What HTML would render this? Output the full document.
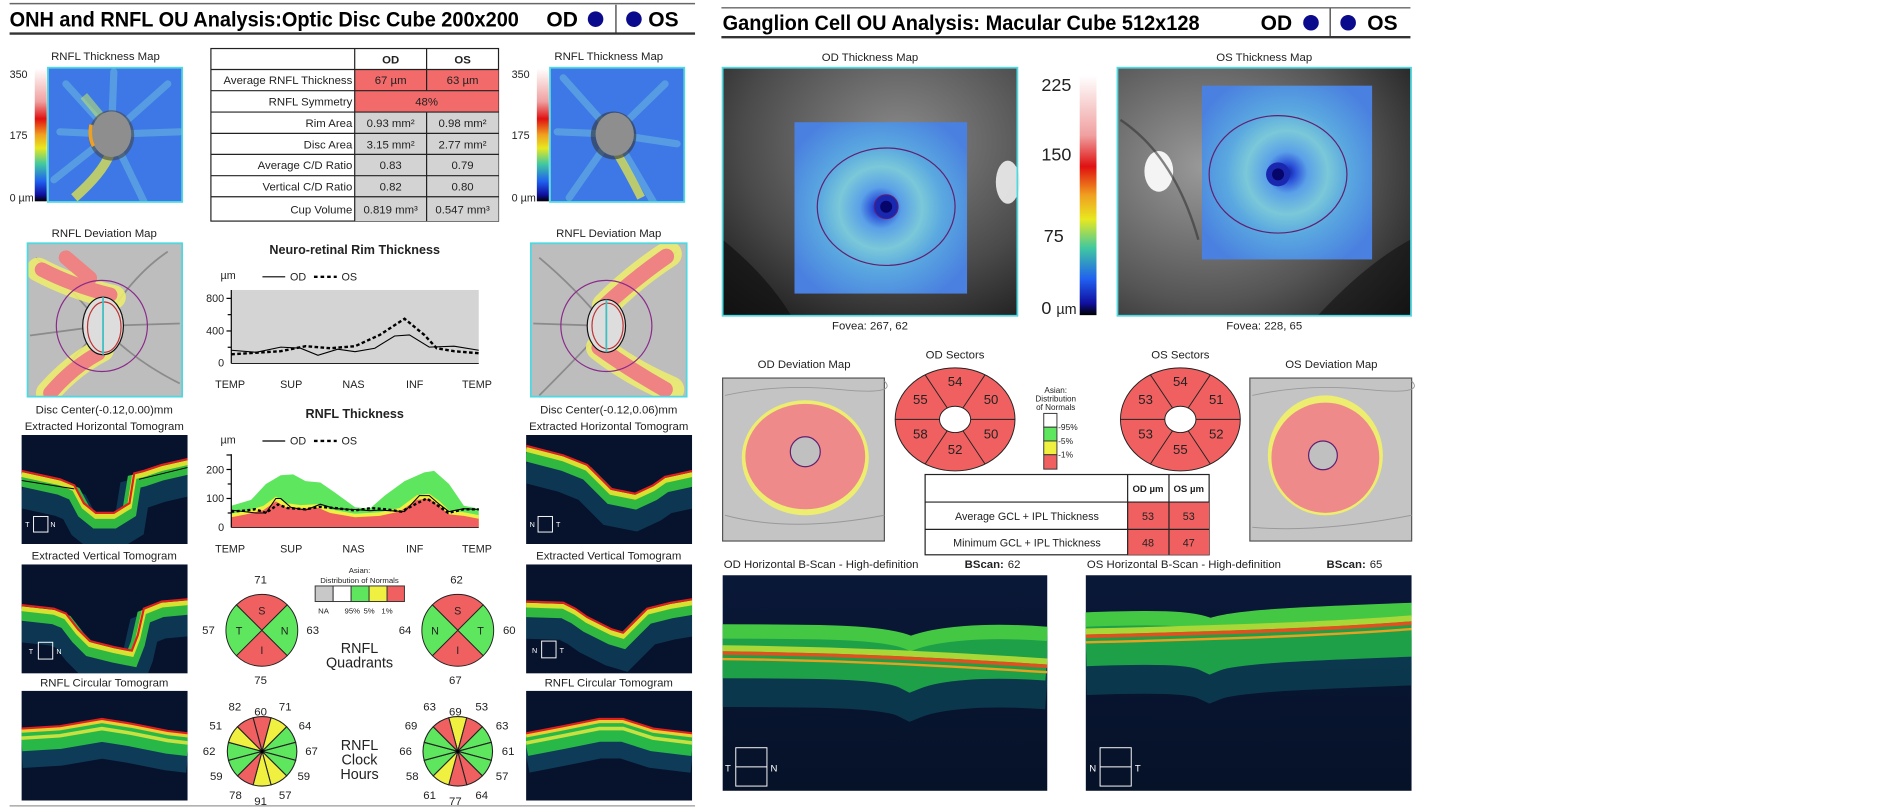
<!DOCTYPE html>
<html><head><meta charset="utf-8"><style>
html,body{margin:0;padding:0;background:#fff;}
svg{display:block;font-family:"Liberation Sans",Arial,sans-serif;}
</style></head><body>
<svg width="1879" height="808" viewBox="0 0 1568 674.3" preserveAspectRatio="none" xmlns="http://www.w3.org/2000/svg">
<defs>
<radialGradient id="fund" cx="0.6" cy="0.3" r="0.9"><stop offset="0" stop-color="#8a8a8a"/><stop offset="0.6" stop-color="#4a4a4a"/><stop offset="1" stop-color="#151515"/></radialGradient>
<radialGradient id="fund2" cx="0.3" cy="0.4" r="0.9"><stop offset="0" stop-color="#9a9a9a"/><stop offset="0.6" stop-color="#555"/><stop offset="1" stop-color="#1a1a1a"/></radialGradient>
<radialGradient id="gcl" cx="0.5" cy="0.5" r="0.6"><stop offset="0" stop-color="#0a1a9a"/><stop offset="0.08" stop-color="#2a4ed8"/><stop offset="0.2" stop-color="#5aa0e8"/><stop offset="0.4" stop-color="#7ac8d8"/><stop offset="0.6" stop-color="#5aa8e0"/><stop offset="1" stop-color="#4a80e0"/></radialGradient>
<linearGradient id="cbar" x1="0" y1="0" x2="0" y2="1"><stop offset="0" stop-color="#fff"/><stop offset="0.25" stop-color="#f0a0a0"/><stop offset="0.38" stop-color="#e01010"/><stop offset="0.5" stop-color="#f0a020"/><stop offset="0.6" stop-color="#e8e820"/><stop offset="0.72" stop-color="#40c8a0"/><stop offset="0.85" stop-color="#2060f0"/><stop offset="0.95" stop-color="#1010a0"/><stop offset="1" stop-color="#000"/></linearGradient>
<linearGradient id="bscan" x1="0" y1="0" x2="0" y2="1"><stop offset="0" stop-color="#0a1838"/><stop offset="1" stop-color="#061228"/></linearGradient>
<clipPath id="c1"><rect x="18" y="363" width="138.5" height="91"/></clipPath>
<clipPath id="c2"><rect x="18" y="471" width="138.5" height="91"/></clipPath>
<clipPath id="c3"><rect x="18" y="576.5" width="138.5" height="91.5"/></clipPath>
<clipPath id="c4"><rect x="439" y="363" width="138.5" height="91"/></clipPath>
<clipPath id="c5"><rect x="439" y="471" width="138.5" height="91"/></clipPath>
<clipPath id="c6"><rect x="439" y="576.5" width="138.5" height="91.5"/></clipPath>
<clipPath id="c7"><rect x="603" y="480" width="271" height="180"/></clipPath>
<clipPath id="c8"><rect x="906" y="480" width="272" height="180"/></clipPath>
<clipPath id="m1"><rect x="40" y="56.5" width="112" height="112"/></clipPath>
<clipPath id="m2"><rect x="459" y="56.5" width="112" height="112"/></clipPath>
<clipPath id="d1"><rect x="23" y="203" width="129" height="128"/></clipPath>
<clipPath id="d2"><rect x="443" y="203" width="130" height="128"/></clipPath>
</defs>

<!-- ===== LEFT HEADER ===== -->
<line x1="8" y1="3" x2="580" y2="3" stroke="#666" stroke-width="1.2"/>
<line x1="8" y1="28" x2="580" y2="28" stroke="#333" stroke-width="2"/>
<text x="8" y="22" font-size="17.5" font-weight="bold" textLength="425" lengthAdjust="spacingAndGlyphs">ONH and RNFL OU Analysis:Optic Disc Cube 200x200</text>
<text x="456" y="22" font-size="17.5" font-weight="bold">OD</text>
<circle cx="497" cy="16" r="6.5" fill="#0a0a8c"/>
<line x1="514" y1="4" x2="514" y2="28" stroke="#333" stroke-width="1"/>
<circle cx="529" cy="16" r="6.5" fill="#0a0a8c"/>
<text x="541" y="22" font-size="17.5" font-weight="bold">OS</text>

<!-- RNFL thickness maps -->
<g font-size="9.5" fill="#222" text-anchor="middle">
<text x="88" y="50">RNFL Thickness Map</text>
<text x="508" y="50">RNFL Thickness Map</text>
</g>
<rect x="29" y="57" width="10" height="111" fill="url(#cbar)"/>
<rect x="448" y="57" width="10" height="111" fill="url(#cbar)"/>
<g font-size="9" fill="#222">
<text x="8" y="65">350</text><text x="8" y="116">175</text><text x="8" y="168">0 µm</text>
<text x="427" y="65">350</text><text x="427" y="116">175</text><text x="427" y="168">0 µm</text>
</g>
<g clip-path="url(#m1)">
<rect x="40" y="56.5" width="112" height="112" fill="#3d78e6"/>
<g stroke="#78c8e0" stroke-width="6" opacity="0.45" stroke-linecap="round">
<line x1="93" y1="112" x2="55" y2="70"/><line x1="93" y1="112" x2="140" y2="70"/><line x1="93" y1="112" x2="150" y2="110"/><line x1="93" y1="112" x2="45" y2="150"/><line x1="93" y1="112" x2="120" y2="168"/><line x1="93" y1="112" x2="95" y2="60"/><line x1="93" y1="112" x2="50" y2="110"/></g>
<path d="M92,128 Q85,145 62,165" stroke="#d8e050" stroke-width="8" fill="none" opacity="0.8"/>
<path d="M70,80 L85,98" stroke="#b8e070" stroke-width="7" opacity="0.6"/>
<ellipse cx="93" cy="113" rx="19" ry="21" fill="#444" opacity="0.6"/>
<ellipse cx="93" cy="112" rx="16.5" ry="19" fill="#8e8e8e"/>
<path d="M76,104 Q74,115 78,122" stroke="#f0a020" stroke-width="3" fill="none"/>
</g>
<rect x="40" y="56.5" width="112" height="112" fill="none" stroke="#50d8e0" stroke-width="1.5"/>
<g clip-path="url(#m2)">
<rect x="459" y="56.5" width="112" height="112" fill="#3d78e6"/>
<g stroke="#78c8e0" stroke-width="6" opacity="0.45" stroke-linecap="round">
<line x1="512" y1="112" x2="470" y2="65"/><line x1="512" y1="112" x2="555" y2="70"/><line x1="512" y1="112" x2="565" y2="120"/><line x1="512" y1="112" x2="475" y2="165"/><line x1="512" y1="112" x2="545" y2="168"/><line x1="512" y1="112" x2="465" y2="110"/></g>
<path d="M515,128 Q525,145 535,165" stroke="#d8e050" stroke-width="7" fill="none" opacity="0.8"/>
<ellipse cx="512" cy="113" rx="19" ry="20" fill="#333" opacity="0.6"/>
<ellipse cx="513" cy="112" rx="16" ry="18" fill="#8e8e8e"/>
</g>
<rect x="459" y="56.5" width="112" height="112" fill="none" stroke="#50d8e0" stroke-width="1.5"/>

<!-- Table -->
<g>
<rect x="176" y="40.5" width="240" height="144" fill="#fff" stroke="#222" stroke-width="1"/>
<rect x="296" y="58" width="120" height="35.5" fill="#f26a6a"/>
<rect x="296" y="93.5" width="120" height="91" fill="#d3d3d3"/>
<g stroke="#222" stroke-width="1">
<line x1="296" y1="40.5" x2="296" y2="184.5"/>
<line x1="356" y1="40.5" x2="356" y2="75.7"/><line x1="356" y1="93.5" x2="356" y2="184.5"/>
<line x1="176" y1="58" x2="416" y2="58"/><line x1="176" y1="75.7" x2="416" y2="75.7"/><line x1="176" y1="93.5" x2="416" y2="93.5"/><line x1="176" y1="111.3" x2="416" y2="111.3"/><line x1="176" y1="128.8" x2="416" y2="128.8"/><line x1="176" y1="146.6" x2="416" y2="146.6"/><line x1="176" y1="164.2" x2="416" y2="164.2"/>
</g>
<g font-size="9.5" fill="#222" text-anchor="end">
<text x="294" y="70">Average RNFL Thickness</text><text x="294" y="88">RNFL Symmetry</text><text x="294" y="106">Rim Area</text><text x="294" y="124">Disc Area</text><text x="294" y="141">Average C/D Ratio</text><text x="294" y="159">Vertical C/D Ratio</text><text x="294" y="178">Cup Volume</text>
</g>
<g font-size="9.5" fill="#222" text-anchor="middle">
<text x="326" y="53" font-weight="bold">OD</text><text x="386" y="53" font-weight="bold">OS</text>
<text x="326" y="70">67 µm</text><text x="386" y="70">63 µm</text><text x="356" y="88">48%</text>
<text x="326" y="106">0.93 mm²</text><text x="386" y="106">0.98 mm²</text>
<text x="326" y="124">3.15 mm²</text><text x="386" y="124">2.77 mm²</text>
<text x="326" y="141">0.83</text><text x="386" y="141">0.79</text>
<text x="326" y="159">0.82</text><text x="386" y="159">0.80</text>
<text x="326" y="178">0.819 mm³</text><text x="386" y="178">0.547 mm³</text>
</g>
</g>

<!-- Deviation maps -->
<g font-size="9.5" fill="#222" text-anchor="middle">
<text x="87" y="198">RNFL Deviation Map</text><text x="508" y="198">RNFL Deviation Map</text>
<text x="87" y="345">Disc Center(-0.12,0.00)mm</text><text x="87" y="359">Extracted Horizontal Tomogram</text>
<text x="508" y="345">Disc Center(-0.12,0.06)mm</text><text x="508" y="359">Extracted Horizontal Tomogram</text>
<text x="87" y="467">Extracted Vertical Tomogram</text><text x="508" y="467">Extracted Vertical Tomogram</text>
<text x="87" y="573">RNFL Circular Tomogram</text><text x="508" y="573">RNFL Circular Tomogram</text>
</g>
<g clip-path="url(#d1)">
<rect x="23" y="203" width="129" height="128" fill="#bdbdbd"/>
<g stroke="#777" stroke-width="1.5" fill="none" opacity="0.7"><path d="M85,272 Q60,240 30,215"/><path d="M85,272 Q110,230 140,210"/><path d="M85,272 Q60,300 35,330"/><path d="M85,272 Q110,300 150,320"/><path d="M85,272 L150,270"/><path d="M85,272 L25,280"/></g>
<g stroke="#ecec70" stroke-width="20" fill="none" stroke-linecap="round" opacity="0.9"><path d="M32,225 Q60,240 95,248"/><path d="M85,292 Q60,305 40,328"/></g>
<g stroke="#ef8282" stroke-width="12" fill="none" stroke-linecap="round"><path d="M35,225 Q60,238 92,246"/><path d="M82,295 Q60,307 42,328"/><path d="M55,215 L75,232"/></g>
<circle cx="85" cy="272" r="38" fill="none" stroke="#8a2a8a" stroke-width="1"/>
<ellipse cx="86" cy="272" rx="17" ry="24" fill="#ddd" stroke="#111" stroke-width="1"/>
<ellipse cx="87" cy="273" rx="14" ry="21" fill="none" stroke="#c03030" stroke-width="1"/>
<line x1="86" y1="248" x2="86" y2="296" stroke="#40c0c0" stroke-width="1.5"/>
</g>
<rect x="23" y="203" width="129" height="128" fill="none" stroke="#50d8e0" stroke-width="1.5"/>
<g clip-path="url(#d2)">
<rect x="443" y="203" width="130" height="128" fill="#bdbdbd"/>
<g stroke="#777" stroke-width="1.5" fill="none" opacity="0.7"><path d="M506,272 Q480,240 450,215"/><path d="M506,272 Q530,230 565,210"/><path d="M506,272 Q480,300 450,330"/><path d="M506,272 L445,270"/></g>
<g stroke="#ecec70" stroke-width="22" fill="none" stroke-linecap="round" opacity="0.9"><path d="M505,255 Q530,230 558,212"/><path d="M500,290 Q525,310 560,325"/></g>
<g stroke="#ef8282" stroke-width="13" fill="none" stroke-linecap="round"><path d="M505,255 Q530,232 556,214"/><path d="M500,290 Q525,308 555,325"/></g>
<circle cx="506" cy="272" r="38" fill="none" stroke="#8a2a8a" stroke-width="1"/>
<ellipse cx="506" cy="272" rx="16" ry="22" fill="#ddd" stroke="#111" stroke-width="1"/>
<ellipse cx="507" cy="272" rx="13" ry="19" fill="none" stroke="#c03030" stroke-width="1"/>
<line x1="506" y1="250" x2="506" y2="294" stroke="#40c0c0" stroke-width="1.5"/>
</g>
<rect x="443" y="203" width="130" height="128" fill="none" stroke="#50d8e0" stroke-width="1.5"/>

<!-- Tomograms -->
<g>
<g clip-path="url(#c1)"><rect x="18" y="363" width="139" height="91" fill="#07122c"/>
<g fill="none"><path d="M18,393 L50,400 L62,405 L70,420 L80,428 L95,428 L108,420 L112,395 L120,393 L135,388 L157,383" stroke="#1a7a9a" stroke-width="26" transform="translate(0,18)" opacity="0.35"/><path d="M18,393 L50,400 L62,405 L70,420 L80,428 L95,428 L108,420 L112,395 L120,393 L135,388 L157,383" stroke="#30b840" stroke-width="12" transform="translate(0,7)"/><path d="M18,393 L50,400 L62,405 L70,420 L80,428 L95,428 L108,420 L112,395 L120,393 L135,388 L157,383" stroke="#d8e030" stroke-width="4" transform="translate(0,3)"/><path d="M18,393 L50,400 L62,405 L70,420 L80,428 L95,428 L108,420 L112,395 L120,393 L135,388 L157,383" stroke="#e02020" stroke-width="1.8"/><path d="M18,401 L62,408" stroke="#000" stroke-width="0.8"/><path d="M116,400 L157,390" stroke="#000" stroke-width="0.8"/></g>
<rect x="28" y="431" width="12" height="13" fill="none" stroke="#fff" stroke-width="0.8"/><text x="21" y="440" font-size="6" fill="#fff">T</text><text x="42" y="440" font-size="6" fill="#fff">N</text></g>
<g clip-path="url(#c2)"><rect x="18" y="471" width="139" height="91" fill="#07122c"/>
<g fill="none"><path d="M18,505 L45,508 L55,512 L65,525 L75,535 L95,540 L110,543 L115,530 L120,508 L135,502 L157,500" stroke="#1a7a9a" stroke-width="26" transform="translate(0,18)" opacity="0.35"/><path d="M18,505 L45,508 L55,512 L65,525 L75,535 L95,540 L110,543 L115,530 L120,508 L135,502 L157,500" stroke="#30b840" stroke-width="12" transform="translate(0,7)"/><path d="M18,505 L45,508 L55,512 L65,525 L75,535 L95,540 L110,543 L115,530 L120,508 L135,502 L157,500" stroke="#d8e030" stroke-width="4" transform="translate(0,3)"/><path d="M18,505 L45,508 L55,512 L65,525 L75,535 L95,540 L110,543 L115,530 L120,508 L135,502 L157,500" stroke="#e02020" stroke-width="1.8"/></g>
<rect x="32" y="536" width="12" height="14" fill="none" stroke="#fff" stroke-width="0.8"/><text x="24" y="546" font-size="6" fill="#fff">T</text><text x="47" y="546" font-size="6" fill="#fff">N</text></g>
<g clip-path="url(#c3)"><rect x="18" y="576.5" width="139" height="92" fill="#07122c"/>
<g fill="none"><path d="M18,608 L50,606 L85,600 L110,604 L140,610 L157,612" stroke="#1a7a9a" stroke-width="30" transform="translate(0,18)" opacity="0.4"/><path d="M18,608 L50,606 L85,600 L110,604 L140,610 L157,612" stroke="#28b848" stroke-width="18" transform="translate(0,10)"/><path d="M18,608 L50,606 L85,600 L110,604 L140,610 L157,612" stroke="#c8e040" stroke-width="3" transform="translate(0,8)"/><path d="M18,608 L50,606 L85,600 L110,604 L140,610 L157,612" stroke="#e8d030" stroke-width="3" transform="translate(0,2)"/><path d="M18,608 L50,606 L85,600 L110,604 L140,610 L157,612" stroke="#e02020" stroke-width="1.8"/></g></g>

<g clip-path="url(#c4)"><rect x="439" y="363" width="139" height="91" fill="#07122c"/>
<g fill="none"><path d="M439,372 L470,380 L490,388 L500,398 L510,408 L530,412 L545,405 L555,398 L578,393" stroke="#1a7a9a" stroke-width="26" transform="translate(0,18)" opacity="0.35"/><path d="M439,372 L470,380 L490,388 L500,398 L510,408 L530,412 L545,405 L555,398 L578,393" stroke="#30b840" stroke-width="12" transform="translate(0,7)"/><path d="M439,372 L470,380 L490,388 L500,398 L510,408 L530,412 L545,405 L555,398 L578,393" stroke="#d8e030" stroke-width="4" transform="translate(0,3)"/><path d="M439,372 L470,380 L490,388 L500,398 L510,408 L530,412 L545,405 L555,398 L578,393" stroke="#e02020" stroke-width="1.8"/></g>
<rect x="449" y="431" width="12" height="13" fill="none" stroke="#fff" stroke-width="0.8"/><text x="442" y="440" font-size="6" fill="#fff">N</text><text x="464" y="440" font-size="6" fill="#fff">T</text></g>
<g clip-path="url(#c5)"><rect x="439" y="471" width="139" height="91" fill="#07122c"/>
<g fill="none"><path d="M439,502 L470,503 L480,508 L490,515 L510,525 L520,528 L530,518 L540,508 L560,503 L578,500" stroke="#1a7a9a" stroke-width="26" transform="translate(0,18)" opacity="0.35"/><path d="M439,502 L470,503 L480,508 L490,515 L510,525 L520,528 L530,518 L540,508 L560,503 L578,500" stroke="#30b840" stroke-width="12" transform="translate(0,7)"/><path d="M439,502 L470,503 L480,508 L490,515 L510,525 L520,528 L530,518 L540,508 L560,503 L578,500" stroke="#d8e030" stroke-width="4" transform="translate(0,3)"/><path d="M439,502 L470,503 L480,508 L490,515 L510,525 L520,528 L530,518 L540,508 L560,503 L578,500" stroke="#e02020" stroke-width="1.8"/></g>
<rect x="452" y="535" width="12" height="14" fill="none" stroke="#fff" stroke-width="0.8"/><text x="444" y="545" font-size="6" fill="#fff">N</text><text x="467" y="545" font-size="6" fill="#fff">T</text></g>
<g clip-path="url(#c6)"><rect x="439" y="576.5" width="139" height="92" fill="#07122c"/>
<g fill="none"><path d="M439,612 L470,606 L500,600 L520,600 L545,608 L578,612" stroke="#1a7a9a" stroke-width="30" transform="translate(0,18)" opacity="0.4"/><path d="M439,612 L470,606 L500,600 L520,600 L545,608 L578,612" stroke="#28b848" stroke-width="18" transform="translate(0,10)"/><path d="M439,612 L470,606 L500,600 L520,600 L545,608 L578,612" stroke="#c8e040" stroke-width="3" transform="translate(0,8)"/><path d="M439,612 L470,606 L500,600 L520,600 L545,608 L578,612" stroke="#e8d030" stroke-width="3" transform="translate(0,2)"/><path d="M439,612 L470,606 L500,600 L520,600 L545,608 L578,612" stroke="#e02020" stroke-width="1.8"/></g></g>
</g>

<!-- Neuro-retinal rim chart -->
<text x="296" y="212" font-size="10.5" font-weight="bold" text-anchor="middle" fill="#222">Neuro-retinal Rim Thickness</text>
<g font-size="9" fill="#222">
<text x="184" y="233">µm</text>
<line x1="219" y1="231" x2="238" y2="231" stroke="#000" stroke-width="1"/><text x="242" y="234">OD</text>
<line x1="262" y1="231" x2="281" y2="231" stroke="#000" stroke-width="2" stroke-dasharray="3,2.5"/><text x="285" y="234">OS</text>
</g>
<rect x="193" y="242" width="206.5" height="61.3" fill="#d4d4d4"/>
<line x1="193" y1="242" x2="193" y2="303.3" stroke="#000" stroke-width="1"/>
<line x1="193" y1="303.3" x2="399.5" y2="303.3" stroke="#000" stroke-width="0.8"/>
<g stroke="#000" stroke-width="1"><line x1="189" y1="249" x2="193" y2="249"/><line x1="190" y1="262.6" x2="193" y2="262.6"/><line x1="189" y1="276.2" x2="193" y2="276.2"/><line x1="190" y1="289.8" x2="193" y2="289.8"/></g>
<g font-size="9" fill="#222" text-anchor="end"><text x="187" y="252">800</text><text x="187" y="279">400</text><text x="187" y="306">0</text></g>
<polyline points="193,292.3 213.7,294 234.3,289.7 250.8,290.6 265.3,296.5 281.8,291.4 296.3,293.5 312.8,290.6 329.3,280.4 341.7,279.5 358.2,289.7 378.9,288.9 399.5,292.3" fill="none" stroke="#000" stroke-width="0.9"/>
<polyline points="193,295.7 234.3,293.1 255,288.9 275.6,290.6 296.3,288.9 316.9,279.5 337.6,266 354.1,279.5 364.4,290.6 378.9,293.1 399.5,294.8" fill="none" stroke="#000" stroke-width="2" stroke-dasharray="3,2"/>
<g font-size="9" fill="#222" text-anchor="middle"><text x="192" y="324">TEMP</text><text x="243" y="324">SUP</text><text x="295" y="324">NAS</text><text x="346" y="324">INF</text><text x="398" y="324">TEMP</text></g>

<!-- RNFL thickness chart -->
<text x="296" y="349" font-size="10.5" font-weight="bold" text-anchor="middle" fill="#222">RNFL Thickness</text>
<g font-size="9" fill="#222">
<text x="184" y="370">µm</text>
<line x1="219" y1="368" x2="238" y2="368" stroke="#000" stroke-width="1"/><text x="242" y="371">OD</text>
<line x1="262" y1="368" x2="281" y2="368" stroke="#000" stroke-width="2" stroke-dasharray="3,2.5"/><text x="285" y="371">OS</text>
</g>
<polygon points="193,422.1 209.5,417.2 221.9,403.9 234.3,396.6 244.6,395.9 255,401.5 267.3,402.7 279.7,411.2 296.3,423.3 308.6,424.5 321,413.6 337.6,401.5 354.1,394.2 362.3,393 374.7,403.9 387.1,422.1 399.5,424.5 399.5,440.2 193,440.2" fill="#5ee65e"/>
<polygon points="193,428.7 205.4,426.3 219.8,422.2 230.2,414.4 238.4,419.8 250.8,421.5 265.3,420.7 275.6,425.1 296.3,428.7 316.9,427.5 333.4,423.9 347.9,413.2 358.2,412 366.5,418.1 374.7,425.8 387.1,427.5 399.5,429.9 399.5,440.2 193,440.2" fill="#f0f040"/>
<polygon points="193,431.7 205.4,429.3 219.8,425.7 230.2,418.4 238.4,423.3 250.8,424.5 265.3,423.7 275.6,428.1 296.3,431.7 316.9,430.5 333.4,426.9 347.9,417.2 358.2,416 366.5,422.1 374.7,429.3 387.1,430.5 399.5,432.9 399.5,440.2 193,440.2" fill="#f06060"/>
<line x1="193" y1="379" x2="193" y2="440.2" stroke="#000" stroke-width="1"/>
<line x1="193" y1="440.2" x2="399.5" y2="440.2" stroke="#000" stroke-width="0.6"/>
<g stroke="#000" stroke-width="1"><line x1="189" y1="379.7" x2="193" y2="379.7"/><line x1="189" y1="391.8" x2="193" y2="391.8"/><line x1="190" y1="403.9" x2="193" y2="403.9"/><line x1="189" y1="416" x2="193" y2="416"/><line x1="190" y1="428.1" x2="193" y2="428.1"/></g>
<g font-size="9" fill="#222" text-anchor="end"><text x="187" y="395">200</text><text x="187" y="419">100</text><text x="187" y="443">0</text></g>
<polyline points="193,425.7 213.7,428.1 221.9,428.1 230.2,416 234.3,416 242.6,423.3 255,425.7 267.3,420.8 279.7,424.5 296.3,425.2 308.6,426.2 316.9,425.7 337.6,426.9 350,413.6 358.2,413.6 366.5,420.8 374.7,426.9 387.1,424.5 399.5,425.2" fill="none" stroke="#000" stroke-width="0.9"/>
<polyline points="193,427 205,426 213,425 222,428 232,421 240,424 255,425 267,423 280,424 296,426 310,424 322,425 335,427 348,420 356,416 364,421 374,428 387,425 399.5,425" fill="none" stroke="#000" stroke-width="2" stroke-dasharray="2.5,2"/>
<g font-size="9" fill="#222" text-anchor="middle"><text x="192" y="461">TEMP</text><text x="243" y="461">SUP</text><text x="295" y="461">NAS</text><text x="346" y="461">INF</text><text x="398" y="461">TEMP</text></g>

<!-- Quadrant legend -->
<g font-size="6.5" fill="#222" text-anchor="middle"><text x="300" y="478">Asian:</text><text x="300" y="486.5">Distribution of Normals</text></g>
<g stroke="#333" stroke-width="0.8">
<rect x="263" y="489" width="15" height="13" fill="#c8c8c8"/><rect x="278" y="489" width="15" height="13" fill="#fff"/><rect x="293" y="489" width="15" height="13" fill="#5ee65e"/><rect x="308" y="489" width="15" height="13" fill="#f0f040"/><rect x="323" y="489" width="14.5" height="13" fill="#f06060"/>
</g>
<g font-size="6.5" fill="#222" text-anchor="middle"><text x="270" y="512">NA</text><text x="294" y="512">95%</text><text x="308" y="512">5%</text><text x="323" y="512">1%</text></g>

<!-- Quadrants -->
<g transform="translate(218.5,526)" stroke="#222" stroke-width="0.8">
<path d="M0,0 L-21.2,-21.2 A30,30 0 0 1 21.2,-21.2Z" fill="#f06060"/>
<path d="M0,0 L21.2,-21.2 A30,30 0 0 1 21.2,21.2Z" fill="#5ee65e"/>
<path d="M0,0 L21.2,21.2 A30,30 0 0 1 -21.2,21.2Z" fill="#f06060"/>
<path d="M0,0 L-21.2,21.2 A30,30 0 0 1 -21.2,-21.2Z" fill="#5ee65e"/>
<g stroke="none" font-size="9" fill="#222" text-anchor="middle"><text x="0" y="-13">S</text><text x="19" y="3.5">N</text><text x="0" y="20">I</text><text x="-19" y="3.5">T</text></g>
</g>
<g transform="translate(382,526)" stroke="#222" stroke-width="0.8">
<path d="M0,0 L-21.2,-21.2 A30,30 0 0 1 21.2,-21.2Z" fill="#f06060"/>
<path d="M0,0 L21.2,-21.2 A30,30 0 0 1 21.2,21.2Z" fill="#5ee65e"/>
<path d="M0,0 L21.2,21.2 A30,30 0 0 1 -21.2,21.2Z" fill="#f06060"/>
<path d="M0,0 L-21.2,21.2 A30,30 0 0 1 -21.2,-21.2Z" fill="#5ee65e"/>
<g stroke="none" font-size="9" fill="#222" text-anchor="middle"><text x="0" y="-13">S</text><text x="19" y="3.5">T</text><text x="0" y="20">I</text><text x="-19" y="3.5">N</text></g>
</g>
<g font-size="9.5" fill="#222" text-anchor="middle">
<text x="217.5" y="487">71</text><text x="174" y="529">57</text><text x="261" y="529">63</text><text x="217.5" y="571">75</text>
<text x="381" y="487">62</text><text x="338" y="529">64</text><text x="425" y="529">60</text><text x="380" y="571">67</text>
</g>
<g font-size="12" fill="#222" text-anchor="middle"><text x="300" y="545">RNFL</text><text x="300" y="557">Quadrants</text>
<text x="300" y="626">RNFL</text><text x="300" y="638">Clock</text><text x="300" y="650">Hours</text></g>

<!-- Clock hours -->
<g transform="translate(218.7,627)" stroke="#222" stroke-width="0.9">
<path d="M0,0 L-7.51,-28.01 A29,29 0 0 1 7.51,-28.01Z" fill="#f06060"/>
<path d="M0,0 L7.51,-28.01 A29,29 0 0 1 20.51,-20.51Z" fill="#f0f040"/>
<path d="M0,0 L20.51,-20.51 A29,29 0 0 1 28.01,-7.51Z" fill="#5ee65e"/>
<path d="M0,0 L28.01,-7.51 A29,29 0 0 1 28.01,7.51Z" fill="#5ee65e"/>
<path d="M0,0 L28.01,7.51 A29,29 0 0 1 20.51,20.51Z" fill="#5ee65e"/>
<path d="M0,0 L20.51,20.51 A29,29 0 0 1 7.51,28.01Z" fill="#f0f040"/>
<path d="M0,0 L7.51,28.01 A29,29 0 0 1 -7.51,28.01Z" fill="#f0f040"/>
<path d="M0,0 L-7.51,28.01 A29,29 0 0 1 -20.51,20.51Z" fill="#f06060"/>
<path d="M0,0 L-20.51,20.51 A29,29 0 0 1 -28.01,7.51Z" fill="#5ee65e"/>
<path d="M0,0 L-28.01,7.51 A29,29 0 0 1 -28.01,-7.51Z" fill="#5ee65e"/>
<path d="M0,0 L-28.01,-7.51 A29,29 0 0 1 -20.51,-20.51Z" fill="#f0f040"/>
<path d="M0,0 L-20.51,-20.51 A29,29 0 0 1 -7.51,-28.01Z" fill="#f06060"/>
<circle r="1.8" fill="#000"/>
</g>
<g transform="translate(382,627)" stroke="#222" stroke-width="0.9">
<path d="M0,0 L-7.51,-28.01 A29,29 0 0 1 7.51,-28.01Z" fill="#f0f040"/>
<path d="M0,0 L7.51,-28.01 A29,29 0 0 1 20.51,-20.51Z" fill="#f06060"/>
<path d="M0,0 L20.51,-20.51 A29,29 0 0 1 28.01,-7.51Z" fill="#5ee65e"/>
<path d="M0,0 L28.01,-7.51 A29,29 0 0 1 28.01,7.51Z" fill="#5ee65e"/>
<path d="M0,0 L28.01,7.51 A29,29 0 0 1 20.51,20.51Z" fill="#5ee65e"/>
<path d="M0,0 L20.51,20.51 A29,29 0 0 1 7.51,28.01Z" fill="#f06060"/>
<path d="M0,0 L7.51,28.01 A29,29 0 0 1 -7.51,28.01Z" fill="#f06060"/>
<path d="M0,0 L-7.51,28.01 A29,29 0 0 1 -20.51,20.51Z" fill="#f0f040"/>
<path d="M0,0 L-20.51,20.51 A29,29 0 0 1 -28.01,7.51Z" fill="#5ee65e"/>
<path d="M0,0 L-28.01,7.51 A29,29 0 0 1 -28.01,-7.51Z" fill="#5ee65e"/>
<path d="M0,0 L-28.01,-7.51 A29,29 0 0 1 -20.51,-20.51Z" fill="#5ee65e"/>
<path d="M0,0 L-20.51,-20.51 A29,29 0 0 1 -7.51,-28.01Z" fill="#f06060"/>
<circle r="1.8" fill="#000"/>
</g>
<g font-size="9.5" fill="#222" text-anchor="middle">
<text x="217.5" y="597">60</text><text x="238" y="593">71</text><text x="196" y="593">82</text><text x="180" y="609">51</text><text x="254.5" y="609">64</text><text x="174.5" y="630">62</text><text x="260" y="630">67</text><text x="180.5" y="651">59</text><text x="253.5" y="651">59</text><text x="196.5" y="667">78</text><text x="217.5" y="672">91</text><text x="238" y="667">57</text>
<text x="380" y="597">69</text><text x="358.5" y="593">63</text><text x="402" y="593">53</text><text x="343" y="609">69</text><text x="419" y="609">63</text><text x="338.5" y="630">66</text><text x="424" y="630">61</text><text x="344" y="651">58</text><text x="419" y="651">57</text><text x="358.5" y="667">61</text><text x="380" y="672">77</text><text x="402" y="667">64</text>
</g>
<line x1="8" y1="672.5" x2="580" y2="672.5" stroke="#999" stroke-width="1"/>

<!-- ===== RIGHT PANEL ===== -->
<line x1="602" y1="6.5" x2="1177" y2="6.5" stroke="#666" stroke-width="1.2"/>
<line x1="602" y1="31" x2="1177" y2="31" stroke="#333" stroke-width="2"/>
<text x="603" y="25" font-size="17.5" font-weight="bold" textLength="398" lengthAdjust="spacingAndGlyphs">Ganglion Cell OU Analysis: Macular Cube 512x128</text>
<text x="1052" y="25" font-size="17.5" font-weight="bold">OD</text>
<circle cx="1094" cy="19" r="6.5" fill="#0a0a8c"/>
<line x1="1110" y1="7" x2="1110" y2="31" stroke="#333" stroke-width="1"/>
<circle cx="1125" cy="19" r="6.5" fill="#0a0a8c"/>
<text x="1141" y="25" font-size="17.5" font-weight="bold">OS</text>

<g font-size="9.5" fill="#222" text-anchor="middle">
<text x="726" y="51">OD Thickness Map</text><text x="1055" y="51">OS Thickness Map</text>
<text x="726" y="275">Fovea: 267, 62</text><text x="1055" y="275">Fovea: 228, 65</text>
</g>
<rect x="603" y="56.5" width="246" height="207" fill="url(#fund)"/>
<path d="M603,200 Q640,230 660,263 L603,263Z" fill="#111" opacity="0.7"/>
<ellipse cx="841" cy="152" rx="10" ry="18" fill="#eee" opacity="0.9"/>
<rect x="663" y="102" width="144" height="143" fill="url(#gcl)"/>
<ellipse cx="739.5" cy="172.5" rx="57.5" ry="49" fill="none" stroke="#602070" stroke-width="1"/>
<circle cx="739.5" cy="172.5" r="10" fill="#1a28b0"/><circle cx="739.5" cy="172.5" r="5" fill="#05056a"/>
<circle cx="739.5" cy="172.5" r="10" fill="none" stroke="#602070" stroke-width="0.8"/>
<rect x="603" y="56.5" width="246" height="207" fill="none" stroke="#50d8e0" stroke-width="1.5"/>

<rect x="932.5" y="56.5" width="245" height="207" fill="url(#fund2)"/>
<path d="M1100,263 Q1140,220 1177,200 L1177,263Z" fill="#111" opacity="0.6"/>
<ellipse cx="967" cy="143" rx="12" ry="17" fill="#f4f4f4"/>
<path d="M935,100 Q980,130 1000,200" stroke="#333" stroke-width="2" fill="none" opacity="0.6"/>
<rect x="1003" y="71.5" width="142" height="145" fill="url(#gcl)"/>
<ellipse cx="1066.5" cy="145.5" rx="57.5" ry="49" fill="none" stroke="#602070" stroke-width="1"/>
<circle cx="1066.5" cy="145.5" r="10" fill="#1a28b0"/><circle cx="1066.5" cy="145.5" r="5" fill="#05056a"/>
<rect x="932.5" y="56.5" width="245" height="207" fill="none" stroke="#50d8e0" stroke-width="1.5"/>

<rect x="901" y="63" width="14" height="200" fill="url(#cbar)"/>
<g font-size="15" fill="#222"><text x="869" y="76">225</text><text x="869" y="134">150</text><text x="871" y="202">75</text><text x="869" y="262">0 <tspan font-size="12">µm</tspan></text></g>

<!-- Deviation maps right -->
<g font-size="9.5" fill="#222" text-anchor="middle">
<text x="671" y="307">OD Deviation Map</text><text x="1111" y="307">OS Deviation Map</text>
<text x="797" y="299">OD Sectors</text><text x="985" y="299">OS Sectors</text>
</g>
<rect x="603" y="315.5" width="135" height="136" fill="#c4c4c4" stroke="#555" stroke-width="1"/>
<g stroke="#999" stroke-width="0.8" fill="none"><path d="M605,330 Q650,320 700,325 T738,318"/><path d="M605,430 Q660,445 738,430"/></g>
<ellipse cx="672" cy="382" rx="53" ry="48" fill="#eded70"/>
<ellipse cx="672" cy="381" rx="50" ry="44" fill="#ef8a8a"/>
<circle cx="672" cy="377" r="12.5" fill="#c0c0c0" stroke="#602070" stroke-width="1"/>
<rect x="1043" y="315.5" width="135" height="136" fill="#c4c4c4" stroke="#555" stroke-width="1"/>
<g stroke="#999" stroke-width="0.8" fill="none"><path d="M1045,330 Q1090,320 1140,325 T1178,318"/><path d="M1045,440 Q1100,445 1178,430"/></g>
<ellipse cx="1106" cy="380" rx="48" ry="50" fill="#eded70"/>
<ellipse cx="1106" cy="382" rx="45" ry="46" fill="#ef8a8a"/>
<circle cx="1104" cy="380" r="12" fill="#c0c0c0" stroke="#602070" stroke-width="1"/>

<!-- Sectors -->
<g transform="translate(797,350)">
<ellipse rx="50" ry="43" fill="#f06060" stroke="#222" stroke-width="0.8"/>
<g stroke="#222" stroke-width="0.8"><line x1="-50" y1="0" x2="-13" y2="0"/><line x1="13" y1="0" x2="50" y2="0"/><line x1="-6.5" y1="-9.5" x2="-25" y2="-37.2"/><line x1="6.5" y1="-9.5" x2="25" y2="-37.2"/><line x1="-6.5" y1="9.5" x2="-25" y2="37.2"/><line x1="6.5" y1="9.5" x2="25" y2="37.2"/></g>
<ellipse rx="13" ry="11" fill="#fff" stroke="#222" stroke-width="0.8"/>
<g font-size="11" fill="#222" text-anchor="middle"><text x="0" y="-28">54</text><text x="-29" y="-13">55</text><text x="30" y="-13">50</text><text x="-29" y="16">58</text><text x="30" y="16">50</text><text x="0" y="29">52</text></g>
</g>
<g transform="translate(985,350)">
<ellipse rx="50" ry="43" fill="#f06060" stroke="#222" stroke-width="0.8"/>
<g stroke="#222" stroke-width="0.8"><line x1="-50" y1="0" x2="-13" y2="0"/><line x1="13" y1="0" x2="50" y2="0"/><line x1="-6.5" y1="-9.5" x2="-25" y2="-37.2"/><line x1="6.5" y1="-9.5" x2="25" y2="-37.2"/><line x1="-6.5" y1="9.5" x2="-25" y2="37.2"/><line x1="6.5" y1="9.5" x2="25" y2="37.2"/></g>
<ellipse rx="13" ry="11" fill="#fff" stroke="#222" stroke-width="0.8"/>
<g font-size="11" fill="#222" text-anchor="middle"><text x="0" y="-28">54</text><text x="-29" y="-13">53</text><text x="30" y="-13">51</text><text x="-29" y="16">53</text><text x="30" y="16">52</text><text x="0" y="29">55</text></g>
</g>
<g font-size="6.8" fill="#222" text-anchor="middle"><text x="881" y="328">Asian:</text><text x="881" y="335">Distribution</text><text x="881" y="342">of Normals</text></g>
<g stroke="#333" stroke-width="0.8">
<rect x="871" y="345" width="11" height="11.5" fill="#fff"/><rect x="871" y="356.5" width="11" height="11.5" fill="#5ee65e"/><rect x="871" y="368" width="11" height="11.5" fill="#f0f040"/><rect x="871" y="379.5" width="11" height="12" fill="#f06060"/>
</g>
<g font-size="7" fill="#222"><text x="883" y="359">-95%</text><text x="883" y="370.5">-5%</text><text x="883" y="382">-1%</text></g>

<!-- GCL table -->
<rect x="772" y="396" width="237" height="67" fill="#fff" stroke="#222" stroke-width="1"/>
<rect x="941" y="419" width="68" height="44" fill="#f06060"/>
<g stroke="#222" stroke-width="1"><line x1="941" y1="396" x2="941" y2="463"/><line x1="975.5" y1="396" x2="975.5" y2="463"/><line x1="772" y1="419" x2="1009" y2="419"/><line x1="772" y1="441.8" x2="1009" y2="441.8"/></g>
<g font-size="8" fill="#222" text-anchor="middle"><text x="958" y="410.5" font-weight="bold">OD µm</text><text x="992" y="410.5" font-weight="bold">OS µm</text></g>
<g font-size="9" fill="#222" text-anchor="middle"><text x="857" y="434">Average GCL + IPL Thickness</text><text x="857" y="456">Minimum GCL + IPL Thickness</text>
<text x="958" y="434">53</text><text x="992" y="434">53</text><text x="958" y="456">48</text><text x="992" y="456">47</text></g>

<!-- B-scans -->
<g font-size="9.5" fill="#222">
<text x="604" y="474">OD Horizontal B-Scan - High-definition</text><text x="805" y="474" font-weight="bold">BScan:</text><text x="841" y="474">62</text>
<text x="907" y="474">OS Horizontal B-Scan - High-definition</text><text x="1107" y="474" font-weight="bold">BScan:</text><text x="1143" y="474">65</text>
</g>
<g clip-path="url(#c7)">
<rect x="603" y="480" width="271" height="180" fill="url(#bscan)"/>
<g fill="none">
<path d="M603,520 C680,520 740,520 760,530 C780,522 820,518 874,522" stroke="#0e5a6a" stroke-width="50" transform="translate(0,45)" opacity="0.5"/>
<path d="M603,520 C680,520 740,520 760,530 C780,522 820,518 874,522" stroke="#1ea048" stroke-width="44" transform="translate(0,24)"/>
<path d="M603,520 C680,520 740,520 760,530 C780,522 820,518 874,522" stroke="#44c844" stroke-width="12" transform="translate(0,7)"/>
<path d="M603,545 C700,546 780,550 874,556" stroke="#a8d838" stroke-width="5" transform="translate(0,-4)"/>
<path d="M603,545 C700,546 780,550 874,556" stroke="#e05020" stroke-width="3"/>
<path d="M603,545 C700,546 780,550 874,556" stroke="#e8a020" stroke-width="2" transform="translate(0,5)"/>
</g>
<rect x="614" y="624" width="26" height="32" fill="none" stroke="#fff" stroke-width="0.8"/>
<line x1="614" y1="640" x2="640" y2="640" stroke="#fff" stroke-width="0.8"/>
<text x="605" y="644" font-size="8" fill="#fff">T</text><text x="643" y="644" font-size="8" fill="#fff">N</text>
</g>
<g clip-path="url(#c8)">
<rect x="906" y="480" width="272" height="180" fill="url(#bscan)"/>
<g fill="none">
<path d="M906,510 C960,508 995,508 1010,515 C1030,507 1100,505 1178,502" stroke="#0e5a6a" stroke-width="50" transform="translate(0,45)" opacity="0.5"/>
<path d="M906,510 C960,508 995,508 1010,515 C1030,507 1100,505 1178,502" stroke="#1ea048" stroke-width="44" transform="translate(0,24)"/>
<path d="M906,510 C960,508 995,508 1010,515 C1030,507 1100,505 1178,502" stroke="#44c844" stroke-width="12" transform="translate(0,7)"/>
<path d="M906,531 C1000,529 1100,526 1178,520" stroke="#a8d838" stroke-width="5" transform="translate(0,-4)"/>
<path d="M906,531 C1000,529 1100,526 1178,520" stroke="#e05020" stroke-width="3"/>
<path d="M906,531 C1000,529 1100,526 1178,520" stroke="#e8a020" stroke-width="2" transform="translate(0,5)"/>
</g>
<rect x="918" y="624" width="26" height="32" fill="none" stroke="#fff" stroke-width="0.8"/>
<line x1="918" y1="640" x2="944" y2="640" stroke="#fff" stroke-width="0.8"/>
<text x="909" y="644" font-size="8" fill="#fff">N</text><text x="947" y="644" font-size="8" fill="#fff">T</text>
</g>
</svg>
</body></html>
